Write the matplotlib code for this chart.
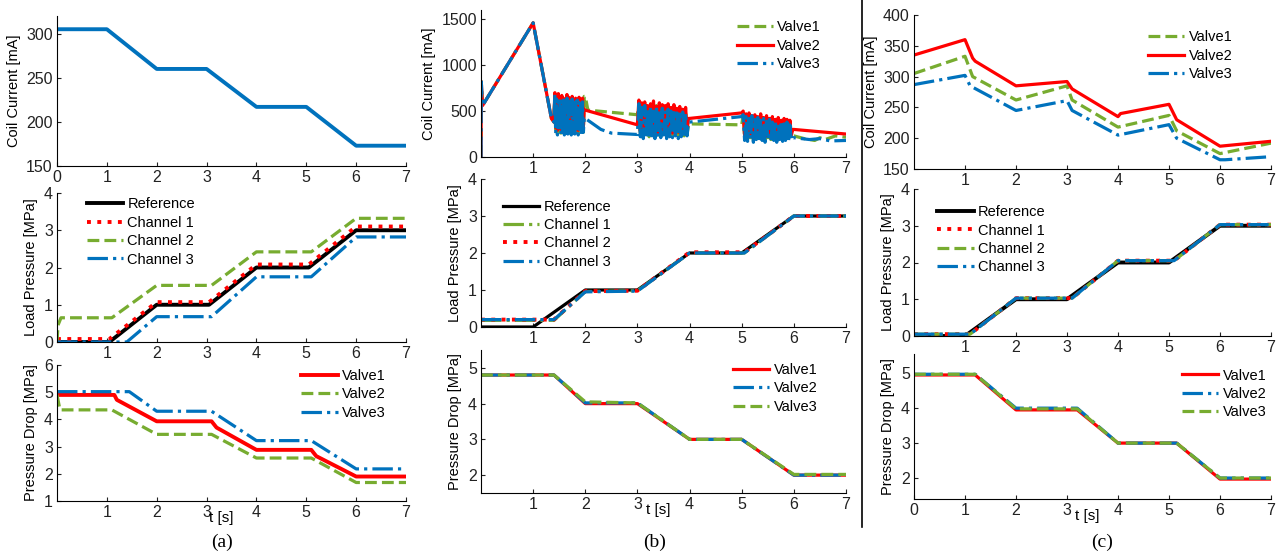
import numpy as np
from matplotlib import pyplot as plt

BLUE = '#0072BD'
GREEN = '#77AC30'
RED = '#FF0000'
BLACK = '#000000'

W, H = 1288, 556

# ---------------- (a) ----------------
a_cur_t = [0, 1, 2, 3, 4, 5, 6, 7]
a_cur_v = [305, 305, 260, 260, 217, 217, 173, 173]

a_ref_t = [0, 1.05, 2, 3.05, 4, 5.05, 6, 7]
a_ref_v = [0, 0, 1, 1, 2, 2, 3, 3]
a_ch1_t = [0, 1.05, 2, 3.05, 4, 5.05, 6, 7]
a_ch1_v = [0.08, 0.08, 1.07, 1.07, 2.08, 2.08, 3.1, 3.1]
a_ch2_t = [0, 0.02, 0.08, 1.1, 2, 3.1, 4, 5.1, 6, 7]
a_ch2_v = [0, 0.45, 0.65, 0.65, 1.52, 1.52, 2.42, 2.42, 3.32, 3.32]
a_ch3_t = [0, 1.4, 2, 3.1, 4, 5.1, 6, 7]
a_ch3_v = [0, 0, 0.68, 0.68, 1.75, 1.75, 2.82, 2.82]

a_dp1_t = [0, 1.15, 1.2, 2, 3.1, 3.2, 4, 5.1, 5.2, 6, 7]
a_dp1_v = [4.9, 4.9, 4.72, 3.93, 3.93, 3.7, 2.88, 2.88, 2.65, 1.9, 1.9]
a_dp2_t = [0, 0.06, 1.1, 2, 3.1, 4, 5.1, 6, 7]
a_dp2_v = [4.9, 4.35, 4.35, 3.45, 3.45, 2.58, 2.58, 1.68, 1.68]
a_dp3_t = [0, 1.45, 2, 3.1, 4, 5.1, 6, 7]
a_dp3_v = [5.02, 5.02, 4.3, 4.3, 3.22, 3.22, 2.18, 2.18]

# ---------------- (b) ----------------
# smooth pieces (t, value) and chattering blocks (values only)
b_pre_t = [0, 0.005, 0.03, 1.0, 1.35, 1.4]
b_pre_v = [0, 820, 560, 1460, 420, 380]

b1_blk1 = [500, 620, 270, 590, 250, 610, 290, 570, 260, 640, 280, 600, 250, 580, 300, 620, 260, 590,
           270, 610, 250, 570, 290, 630, 260, 600, 270, 580, 250, 620, 280, 590, 260, 610, 270, 660]
b1_mid1_t = [2.0, 2.05, 3.0]
b1_mid1_v = [660, 510, 460]
b1_blk2 = [470, 560, 240, 530, 230, 550, 260, 510, 220, 540, 250, 520, 230, 560, 240, 500, 220, 530,
           260, 510, 230, 540, 240, 520, 220, 500, 250, 530, 230, 510, 240, 490, 230, 500, 250, 360]
b1_mid2_t = [4.0, 4.05, 5.0]
b1_mid2_v = [360, 360, 350]
b1_blk3 = [350, 460, 200, 430, 190, 450, 210, 420, 180, 440, 200, 410, 190, 430, 200, 400, 180, 420,
           210, 390, 190, 410, 200, 380, 180, 400, 190, 370, 180, 390, 200, 360, 190, 370, 200, 230]
b1_tail_t = [6.0, 6.2, 6.4, 6.5, 6.6, 6.8, 7.0]
b1_tail_v = [230, 200, 180, 210, 190, 230, 215]

b2_blk1 = [450, 700, 320, 660, 290, 690, 350, 610, 300, 670, 280, 640, 330, 600, 290, 680, 310, 650,
           280, 620, 340, 660, 300, 600, 280, 640, 320, 610, 290, 650, 300, 620, 310, 640, 330, 520]
b2_mid1_t = [2.0, 3.0]
b2_mid1_v = [510, 350]
b2_blk2 = [360, 620, 280, 590, 260, 600, 300, 560, 270, 580, 250, 610, 290, 550, 260, 590, 280, 570,
           260, 560, 300, 580, 270, 540, 260, 570, 290, 530, 270, 550, 280, 520, 260, 540, 290, 420]
b2_mid2_t = [4.0, 5.0]
b2_mid2_v = [420, 480]
b2_blk3 = [480, 500, 230, 470, 210, 480, 250, 450, 220, 460, 240, 440, 210, 470, 230, 430, 220, 450,
           250, 420, 210, 440, 230, 410, 220, 430, 240, 400, 210, 420, 230, 410, 220, 400, 240, 300]
b2_tail_t = [6.0, 7.0]
b2_tail_v = [300, 250]

b3_blk1 = [400, 680, 260, 630, 240, 600, 280, 650, 250, 590, 270, 620, 240, 600, 260, 640, 250, 580,
           270, 610, 240, 630, 260, 590, 250, 600, 280, 620, 240, 590, 260, 610, 250, 600, 270, 430]
b3_mid1_t = [2.0, 2.3, 2.5, 3.0]
b3_mid1_v = [420, 300, 260, 245]
b3_blk2 = [260, 580, 220, 540, 200, 560, 240, 520, 210, 550, 230, 500, 200, 540, 220, 510, 210, 530,
           240, 490, 200, 520, 220, 500, 210, 510, 230, 480, 200, 500, 220, 490, 210, 480, 230, 380]
b3_mid2_t = [4.0, 5.0]
b3_mid2_v = [380, 440]
b3_blk3 = [440, 460, 180, 440, 170, 420, 200, 450, 160, 410, 190, 430, 170, 400, 180, 420, 160, 390,
           190, 410, 170, 380, 180, 400, 160, 370, 190, 390, 170, 360, 180, 380, 160, 350, 180, 210]
b3_tail_t = [6.0, 6.3, 6.5, 6.7, 7.0]
b3_tail_v = [210, 190, 200, 175, 180]

b_blk_spans = [(1.4, 1.98), (3.0, 3.98), (5.0, 5.98)]

b_ref_t = [0, 1, 2, 3, 4, 5, 6, 7]
b_ref_v = [0, 0, 1, 1, 2, 2, 3, 3]
b_ch_t = [0, 1.4, 2, 3, 4, 5.05, 6, 7]
b_ch1_v = [0.18, 0.18, 0.96, 0.98, 2.0, 2.0, 3.0, 3.0]
b_ch2_v = [0.2, 0.2, 0.97, 0.98, 2.02, 2.02, 3.0, 3.0]
b_ch3_v = [0.2, 0.2, 0.95, 0.97, 2.0, 2.0, 3.0, 3.0]

b_dp_t = [0, 1.4, 2, 3, 4, 5, 6, 7]
b_dp1_v = [4.8, 4.8, 4.0, 4.0, 3.0, 3.0, 2.0, 2.0]
b_dp2_v = [4.8, 4.8, 4.02, 4.02, 3.0, 3.0, 2.0, 2.0]
b_dp3_v = [4.8, 4.8, 4.05, 4.02, 3.0, 3.0, 2.02, 2.02]

# ---------------- (c) ----------------
c_cur1_t = [0, 1, 1.15, 2, 3, 3.1, 4, 5, 5.15, 6, 7]
c_cur1_v = [305, 333, 300, 262, 285, 262, 218, 237, 212, 175, 192]
c_cur2_t = [0, 1, 1.15, 1.2, 2, 3, 3.1, 4, 4.05, 5, 5.15, 6, 7]
c_cur2_v = [335, 360, 330, 325, 285, 292, 280, 235, 240, 255, 230, 187, 195]
c_cur3_t = [0, 1, 1.1, 2, 3, 3.1, 4, 5, 5.15, 6, 6.1, 7]
c_cur3_v = [287, 302, 285, 245, 261, 245, 205, 222, 200, 165, 165, 170]

c_ref_t = [0, 1, 2, 3, 4, 5, 6, 7]
c_ref_v = [0, 0, 1, 1, 2, 2, 3, 3]
c_ch_t = [0, 1.1, 2, 3.1, 4, 5.1, 6, 7]
c_ch_v = [0.05, 0.05, 1.03, 1.03, 2.05, 2.05, 3.03, 3.03]

c_dp_t = [0, 1.2, 2, 3.2, 4, 5.15, 6, 7]
c_dp1_v = [4.95, 4.95, 3.95, 3.95, 3.0, 3.0, 1.97, 1.97]
c_dp2_v = [4.97, 4.97, 4.0, 4.0, 3.0, 3.0, 2.0, 2.0]
c_dp3_v = [4.97, 4.97, 3.98, 3.98, 3.0, 3.0, 2.0, 2.0]

plt.rcParams['font.family'] = ['Liberation Sans', 'DejaVu Sans']
plt.rcParams['font.size'] = 10.5
LW = 2.3


def make_axes(fig, left, right, top, bottom):
    ax = fig.add_axes([left / W, 1 - bottom / H, (right - left) / W, (bottom - top) / H])
    ax.spines['top'].set_visible(False)
    ax.spines['right'].set_visible(False)
    ax.tick_params(direction='in', length=3, labelsize=11.5, colors='#222222', pad=3)
    ax.set_xlim(0, 7)
    return ax


def set_xticks(ax, with_zero):
    ticks = list(range(0, 8)) if with_zero else list(range(1, 8))
    ax.set_xticks(ticks)


def add_legend(ax, x, y):
    ax.legend(loc='upper left', bbox_to_anchor=(x, y), frameon=False, borderpad=0,
              borderaxespad=0, handlelength=2.5, handletextpad=0.3, labelspacing=0.3,
              fontsize=10.5)


def stitch(pre_t, pre_v, blocks, mids, tail_t, tail_v):
    ts, vs = [np.array(pre_t, float)], [np.array(pre_v, float)]
    for k, blk in enumerate(blocks):
        t0, t1 = b_blk_spans[k]
        ts.append(np.linspace(t0, t1, len(blk)))
        vs.append(np.array(blk, float))
        if k < len(mids):
            ts.append(np.array(mids[k][0], float))
            vs.append(np.array(mids[k][1], float))
    ts.append(np.array(tail_t, float))
    vs.append(np.array(tail_v, float))
    return np.concatenate(ts), np.concatenate(vs)


fig = plt.figure(figsize=(W / 100, H / 100), dpi=100)

# ----- column (a) -----
ax = make_axes(fig, 57, 406, 16, 166)
ax.plot(a_cur_t, a_cur_v, color=BLUE, lw=LW + 0.5)
ax.set_ylim(150, 320)
ax.set_yticks([150, 200, 250, 300])
set_xticks(ax, True)
ax.set_ylabel('Coil Current [mA]')

ax = make_axes(fig, 57, 406, 193, 342)
ax.plot(a_ref_t, a_ref_v, color=BLACK, lw=LW + 0.5, label='Reference')
ax.plot(a_ch1_t, a_ch1_v, color=RED, lw=LW + 0.5, ls=':', label='Channel 1')
ax.plot(a_ch2_t, a_ch2_v, color=GREEN, lw=LW, ls='--', label='Channel 2')
ax.plot(a_ch3_t, a_ch3_v, color=BLUE, lw=LW, ls='-.', label='Channel 3')
ax.set_ylim(0, 4)
ax.set_yticks([0, 1, 2, 3, 4])
set_xticks(ax, False)
ax.set_ylabel('Load Pressure [MPa]')
add_legend(ax, 0.085, 0.97)

ax = make_axes(fig, 57, 406, 365, 501)
ax.plot(a_dp1_t, a_dp1_v, color=RED, lw=LW + 0.5, label='Valve1')
ax.plot(a_dp2_t, a_dp2_v, color=GREEN, lw=LW, ls='--', label='Valve2')
ax.plot(a_dp3_t, a_dp3_v, color=BLUE, lw=LW, ls='-.', label='Valve3')
ax.set_ylim(1, 6)
ax.set_yticks([1, 2, 3, 4, 5, 6])
set_xticks(ax, False)
ax.set_ylabel('Pressure Drop [MPa]')
add_legend(ax, 0.70, 0.97)
ax.text(3.3, -0.07, 't [s]', transform=ax.get_xaxis_transform(), ha='center', va='top', fontsize=11)

# ----- column (b) -----
ax = make_axes(fig, 481, 846, 10, 157)
t1, v1 = stitch(b_pre_t, b_pre_v, [b1_blk1, b1_blk2, b1_blk3],
                [(b1_mid1_t, b1_mid1_v), (b1_mid2_t, b1_mid2_v)], b1_tail_t, b1_tail_v)
t2, v2 = stitch(b_pre_t, b_pre_v, [b2_blk1, b2_blk2, b2_blk3],
                [(b2_mid1_t, b2_mid1_v), (b2_mid2_t, b2_mid2_v)], b2_tail_t, b2_tail_v)
t3, v3 = stitch(b_pre_t, b_pre_v, [b3_blk1, b3_blk2, b3_blk3],
                [(b3_mid1_t, b3_mid1_v), (b3_mid2_t, b3_mid2_v)], b3_tail_t, b3_tail_v)
ax.plot(t1, v1, color=GREEN, lw=LW, ls='--', label='Valve1')
ax.plot(t2, v2, color=RED, lw=LW, label='Valve2')
ax.plot(t3, v3, color=BLUE, lw=LW, ls='-.', label='Valve3')
ax.set_ylim(0, 1600)
ax.set_yticks([0, 500, 1000, 1500])
set_xticks(ax, False)
ax.set_ylabel('Coil Current [mA]')
add_legend(ax, 0.70, 0.93)

ax = make_axes(fig, 481, 846, 179, 327)
ax.plot(b_ref_t, b_ref_v, color=BLACK, lw=LW, label='Reference')
ax.plot(b_ch_t, b_ch1_v, color=GREEN, lw=LW, ls='-.', label='Channel 1')
ax.plot(b_ch_t, b_ch2_v, color=RED, lw=LW + 0.5, ls=':', label='Channel 2')
ax.plot(b_ch_t, b_ch3_v, color=BLUE, lw=LW, ls='-.', label='Channel 3')
ax.set_ylim(0, 4)
ax.set_yticks([0, 1, 2, 3, 4])
set_xticks(ax, False)
ax.set_ylabel('Load Pressure [MPa]')
add_legend(ax, 0.06, 0.86)

ax = make_axes(fig, 481, 846, 350, 493)
ax.plot(b_dp_t, b_dp1_v, color=RED, lw=LW, label='Valve1')
ax.plot(b_dp_t, b_dp2_v, color=BLUE, lw=LW, ls='-.', label='Valve2')
ax.plot(b_dp_t, b_dp3_v, color=GREEN, lw=LW, ls='--', label='Valve3')
ax.set_ylim(1.5, 5.5)
ax.set_yticks([2, 3, 4, 5])
set_xticks(ax, False)
ax.set_ylabel('Pressure Drop [MPa]')
add_legend(ax, 0.69, 0.91)
ax.text(3.4, -0.07, 't [s]', transform=ax.get_xaxis_transform(), ha='center', va='top', fontsize=11)

# ----- column (c) -----
ax = make_axes(fig, 914, 1271, 15, 169)
ax.plot(c_cur1_t, c_cur1_v, color=GREEN, lw=LW, ls='--', label='Valve1')
ax.plot(c_cur2_t, c_cur2_v, color=RED, lw=LW, label='Valve2')
ax.plot(c_cur3_t, c_cur3_v, color=BLUE, lw=LW, ls='-.', label='Valve3')
ax.set_ylim(150, 400)
ax.set_yticks([150, 200, 250, 300, 350, 400])
set_xticks(ax, False)
ax.set_ylabel('Coil Current [mA]')
add_legend(ax, 0.655, 0.90)

ax = make_axes(fig, 914, 1271, 189, 336)
ax.plot(c_ref_t, c_ref_v, color=BLACK, lw=LW + 0.5, label='Reference')
ax.plot(c_ch_t, c_ch_v, color=RED, lw=LW + 0.5, ls=':', label='Channel 1')
ax.plot(c_ch_t, c_ch_v, color=GREEN, lw=LW, ls='--', label='Channel 2')
ax.plot(c_ch_t, c_ch_v, color=BLUE, lw=LW, ls='-.', label='Channel 3')
ax.set_ylim(0, 4)
ax.set_yticks([0, 1, 2, 3, 4])
set_xticks(ax, False)
ax.set_ylabel('Load Pressure [MPa]')
add_legend(ax, 0.065, 0.89)

ax = make_axes(fig, 914, 1271, 354, 499)
ax.plot(c_dp_t, c_dp1_v, color=RED, lw=LW, label='Valve1')
ax.plot(c_dp_t, c_dp2_v, color=BLUE, lw=LW, ls='-.', label='Valve2')
ax.plot(c_dp_t, c_dp3_v, color=GREEN, lw=LW, ls='--', label='Valve3')
ax.set_ylim(1.4, 5.55)
ax.set_yticks([2, 3, 4, 5])
set_xticks(ax, True)
ax.set_ylabel('Pressure Drop [MPa]')
add_legend(ax, 0.75, 0.90)
ax.text(3.4, -0.07, 't [s]', transform=ax.get_xaxis_transform(), ha='center', va='top', fontsize=11)

# separator and panel labels
fig.add_artist(plt.Line2D([862 / W, 862 / W], [1, 1 - 527 / H], color=BLACK, lw=1.2))
for label, x in [('(a)', 222), ('(b)', 655), ('(c)', 1102)]:
    fig.text(x / W, 1 - 542 / H, label, ha='center', va='center', fontsize=14,
             family=['Liberation Serif', 'DejaVu Serif'])

fig.savefig('out.png', dpi=100)
